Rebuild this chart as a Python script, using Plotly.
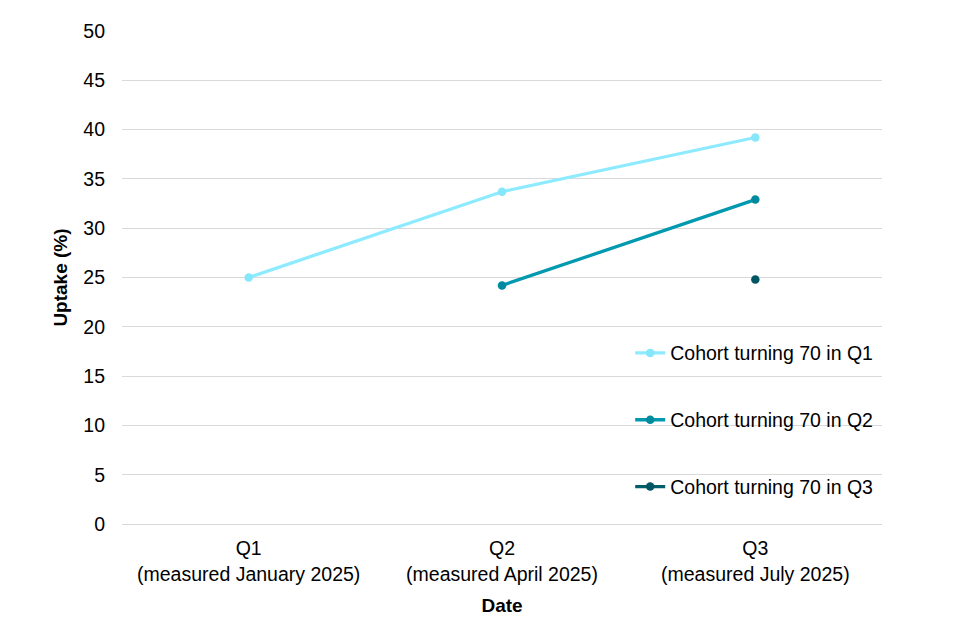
import plotly.graph_objects as go

categories = ["Q1<br>(measured January 2025)", "Q2<br>(measured April 2025)", "Q3<br>(measured July 2025)"]
series_names = ["Cohort turning 70 in Q1", "Cohort turning 70 in Q2", "Cohort turning 70 in Q3"]
q1_values = [25.0, 33.7, 39.2]
q2_values = [None, 24.2, 32.9]
q3_values = [None, None, 24.8]
line_colors = ["#8EEBFF", "#0099AF", "#005F6B"]
marker_colors = ["#86E6FA", "#008A9E", "#005563"]
y_ticks = [0, 5, 10, 15, 20, 25, 30, 35, 40, 45, 50]

fig = go.Figure()
for i, (name, vals) in enumerate(zip(series_names, [q1_values, q2_values, q3_values])):
    fig.add_trace(go.Scatter(
        x=categories, y=vals, name=name, mode="lines+markers",
        line=dict(color=line_colors[i], width=3.3),
        marker=dict(color=marker_colors[i], size=8.5),
        legendgroup=f"g{i}",
    ))

font = "Liberation Sans, Arial, sans-serif"
fig.update_layout(
    width=960, height=640,
    margin=dict(l=114, r=86, t=21, b=124),
    paper_bgcolor="white", plot_bgcolor="white",
    font=dict(family=font, size=19.5, color="#000000"),
    showlegend=True,
    legend=dict(x=0.995, xanchor="right", y=0.386, yanchor="top",
                bgcolor="rgba(0,0,0,0)", tracegroupgap=38.5,
                font=dict(size=19.5, family=font), itemwidth=30),
    xaxis=dict(type="category", range=[-0.5, 2.5], showgrid=False,
               showline=True, linecolor="#D9D9D9", linewidth=1,
               ticks="", tickfont=dict(size=19.5), ticklabelstandoff=7,
               title=dict(text="<b>Date</b>", font=dict(size=19), standoff=14)),
    yaxis=dict(range=[0, 50], tickvals=y_ticks, showgrid=True, gridcolor="#D9D9D9",
               gridwidth=1, zeroline=False, showline=False, ticks="",
               tickfont=dict(size=19.5), ticklabelstandoff=16,
               title=dict(text="<b>Uptake (%)</b>", font=dict(size=19), standoff=10)),
)

fig.write_html("out.html")
